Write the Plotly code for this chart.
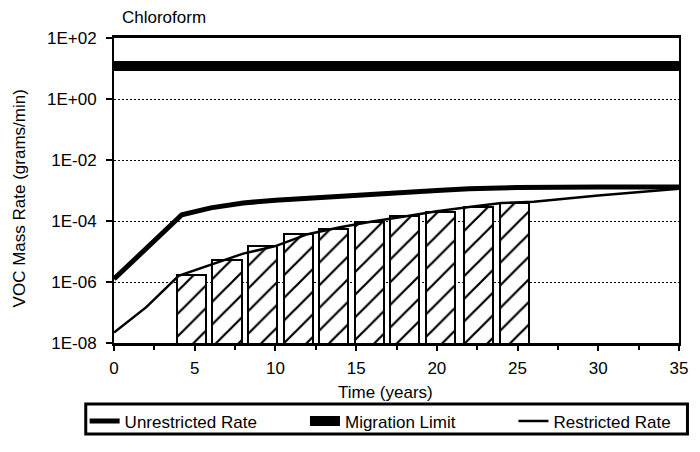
import plotly.graph_objects as go

# data
years = [0, 2, 4, 6, 8, 10, 12, 14, 16, 18, 20, 22, 24, 26, 30, 35]
restricted = [2.2e-8, 1.5e-7, 1.6e-6, 3.8e-6, 8.5e-6, 1.5e-5, 3.7e-5, 6.2e-5,
              9.6e-5, 1.4e-4, 2.1e-4, 2.9e-4, 3.9e-4, 4.3e-4, 6.9e-4, 1.15e-3]

unr_years = [0, 4.2, 6, 8, 10, 12, 14, 16, 20, 22, 25, 30, 35]
unrestricted = [1.25e-6, 1.6e-4, 2.7e-4, 3.9e-4, 4.8e-4, 5.6e-4, 6.9e-4, 8.0e-4,
                1.0e-3, 1.15e-3, 1.25e-3, 1.3e-3, 1.3e-3]

limit_years = [0, 35]
migration_limit = [12, 12]

bar_years = [4.8, 7.0, 9.2, 11.4, 13.6, 15.8, 18.0, 20.2, 22.6, 24.8]
bar_rates = [1.7e-6, 5.1e-6, 1.5e-5, 3.7e-5, 5.4e-5, 9.5e-5, 1.5e-4, 2.0e-4, 2.9e-4, 3.9e-4]

y_ticks = [1e-8, 1e-6, 1e-4, 1e-2, 1, 100]
y_ticktext = ["1E-08", "1E-06", "1E-04", "1E-02", "1E+00", "1E+02"]

FONT = "Liberation Sans, Arial, sans-serif"

fig = go.Figure()

# hatched bars (not in legend)
fig.add_bar(
    x=bar_years, y=bar_rates, width=1.8, showlegend=False,
    marker=dict(color="white", line=dict(color="black", width=2),
                pattern=dict(shape="/", fgcolor="black", bgcolor="white",
                             fgopacity=1, size=16, solidity=0.14)),
)

fig.add_scatter(x=unr_years, y=unrestricted, mode="lines", name="Unrestricted Rate",
                line=dict(color="black", width=5), legend="legend")
fig.add_scatter(x=limit_years, y=migration_limit, mode="lines", name="Migration Limit",
                line=dict(color="black", width=10), legend="legend2")
fig.add_scatter(x=years, y=restricted, mode="lines", name="Restricted Rate",
                line=dict(color="black", width=2.5), legend="legend3")

leg = dict(orientation="h", yanchor="middle", xanchor="left", y=-0.257,
           bgcolor="rgba(0,0,0,0)", font=dict(size=17, color="black", family=FONT),
           itemwidth=30)

# page body adds 8px margin, so figure is 692x444 inside the 700x452 window
fig.update_layout(
    width=692, height=444,
    margin=dict(l=106, r=12, t=30, b=99),
    plot_bgcolor="white", paper_bgcolor="white",
    font=dict(family=FONT, size=17, color="black"),
    bargap=0,
    legend=dict(leg, x=-0.052),
    legend2=dict(leg, x=0.338),
    legend3=dict(leg, x=0.707),
    xaxis=dict(range=[0, 35], dtick=5, tick0=0, showgrid=False, zeroline=False,
               showline=True, linecolor="black", linewidth=2.5, mirror=True,
               ticks="outside", ticklen=5, tickcolor="black", tickwidth=1.5,
               minor=dict(dtick=2.5, ticks="outside", ticklen=4, tickcolor="black"),
               tickfont=dict(size=17), ticklabelstandoff=3),
    yaxis=dict(type="log", range=[-8, 2], tickvals=y_ticks, ticktext=y_ticktext,
               showgrid=True, gridcolor="black", griddash="2px,2px", gridwidth=1,
               zeroline=False, showline=True, linecolor="black", linewidth=2,
               mirror=True, ticks="outside", ticklen=6, tickcolor="black",
               tickwidth=1.5, tickfont=dict(size=17), ticklabelstandoff=6),
    shapes=[dict(type="rect", xref="paper", yref="paper",
                 x0=-0.05, x1=1.015, y0=-0.298, y1=-0.2,
                 line=dict(color="black", width=3))],
    annotations=[
        dict(text="Chloroform", xref="paper", yref="paper", x=0.0105, y=1.067,
             xanchor="left", yanchor="middle", showarrow=False,
             font=dict(size=17)),
        dict(text="VOC Mass Rate (grams/min)", xref="paper", yref="paper",
             x=-0.167, y=0.473, xanchor="center", yanchor="middle", textangle=-90,
             showarrow=False, font=dict(size=17)),
        dict(text="Time (years)", xref="paper", yref="paper",
             x=0.48, y=-0.162, xanchor="center", yanchor="middle",
             showarrow=False, font=dict(size=17)),
    ],
)

fig.write_html("out.html")
